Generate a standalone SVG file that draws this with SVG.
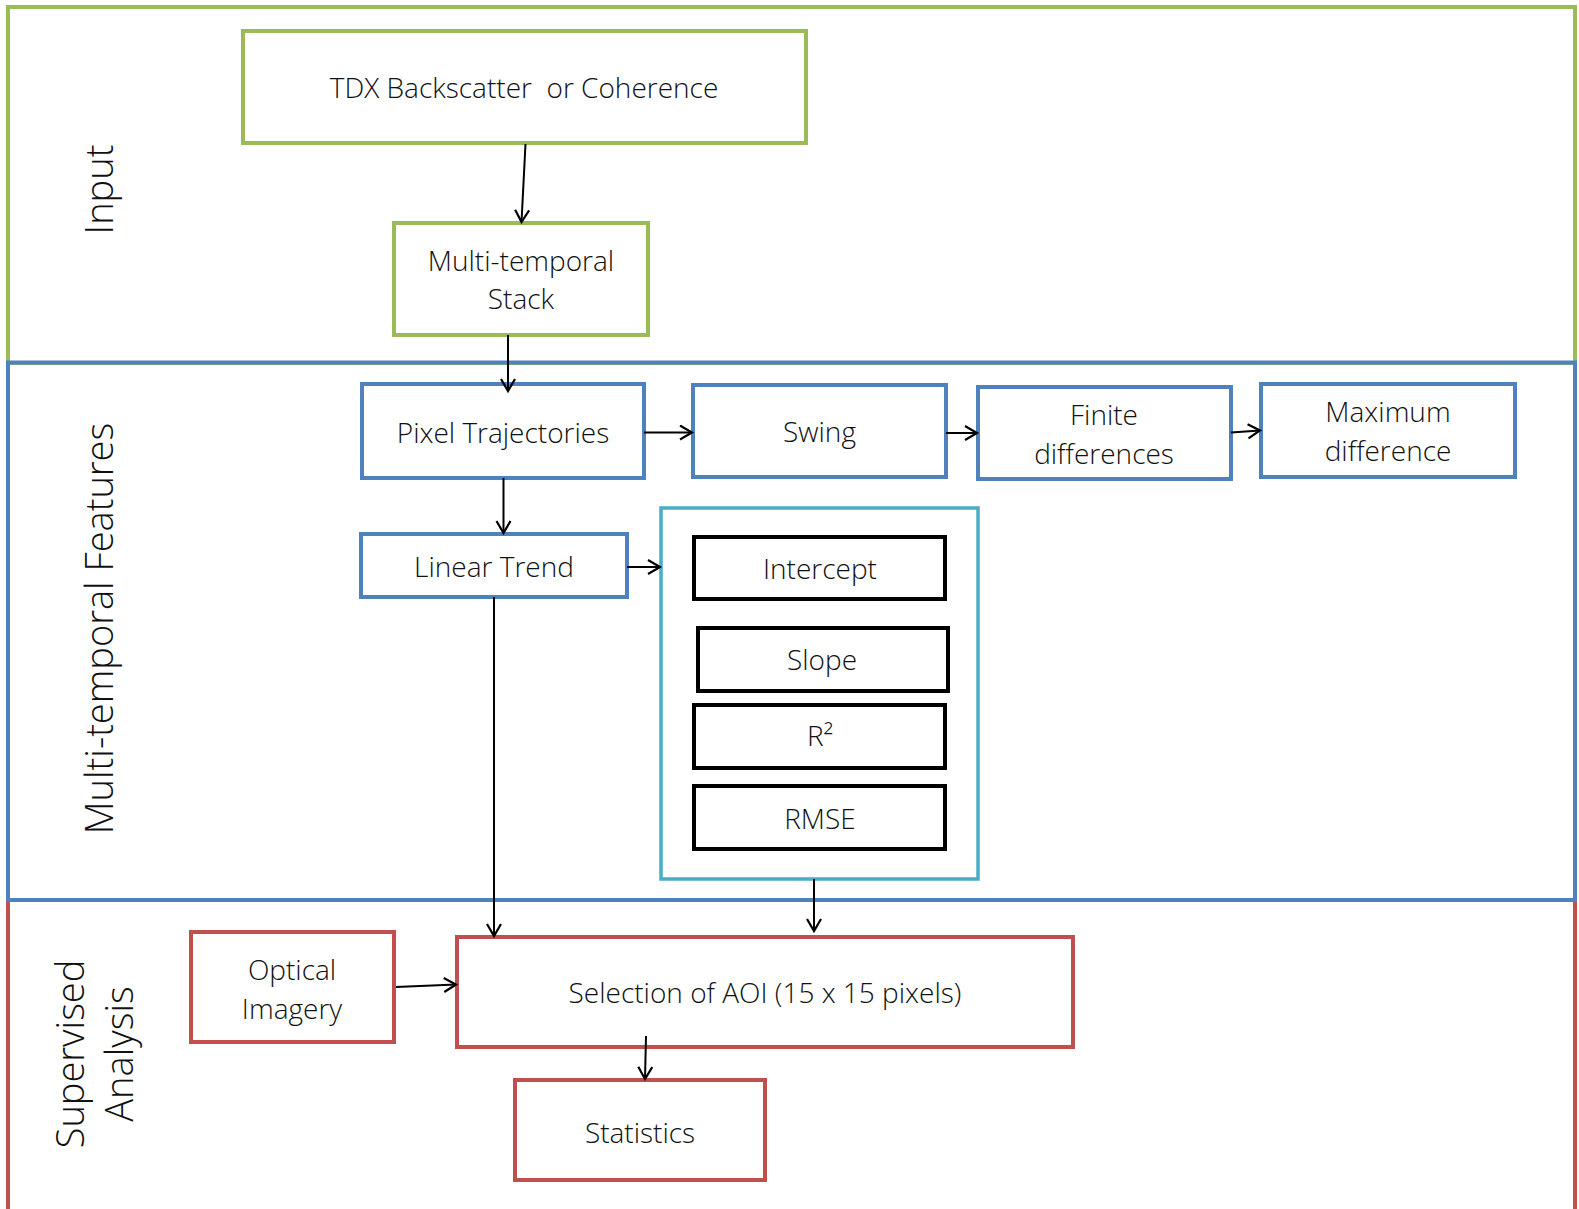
<svg xmlns="http://www.w3.org/2000/svg" width="1579" height="1209" viewBox="0 0 1579 1209">
<defs>
<style>
.bg{fill:#ffffff}
.sec{fill:none;stroke-width:4}
.box{fill:#ffffff;stroke-width:4}
.g{stroke:#9BBB59}
.b{stroke:#4F81BD}
.r{stroke:#C0504D}
.c{stroke:#4BACC6}
.k{stroke:#000000}
.t{font-family:"Open Sans","Liberation Sans",sans-serif;font-weight:300;font-size:28px;fill:#111111;text-anchor:middle}
.lab{font-family:"Open Sans","Liberation Sans",sans-serif;font-weight:300;font-size:38px;fill:#111111;text-anchor:middle}
.con{fill:none;stroke:#000000;stroke-width:2}
</style>
<marker id="ah" markerUnits="userSpaceOnUse" markerWidth="16" markerHeight="18" refX="13" refY="8" orient="auto">
<path d="M1,1 L13,8 L1,15" fill="none" stroke="#000000" stroke-width="2.2"/>
</marker>
</defs>
<rect class="bg" x="0" y="0" width="1579" height="1209"/>
<g id="sections">
<rect id="sec-input" class="sec g" x="8" y="7" width="1567" height="356"/>
<rect id="sec-supervised" class="sec r" x="8" y="900" width="1567" height="330"/>
<rect id="sec-features" class="sec b" x="8" y="362.5" width="1567" height="537.5"/>
<text class="lab" transform="translate(113,189.5) rotate(-90)">Input</text>
<text class="lab" transform="translate(113,628.5) rotate(-90)">Multi-temporal Features</text>
<text class="lab" transform="translate(84,1054) rotate(-90)">Supervised</text>
<text class="lab" transform="translate(133,1054) rotate(-90)">Analysis</text>
</g>
<g id="n-tdx"><rect class="box g" x="243" y="31" width="563" height="112"/><text class="t" x="524" y="98" xml:space="preserve">TDX Backscatter  or Coherence</text></g>
<g id="n-stack"><rect class="box g" x="394" y="223" width="254" height="112"/><text class="t" x="521" y="271">Multi-temporal</text><text class="t" x="521" y="309">Stack</text></g>
<g id="n-pixel"><rect class="box b" x="362" y="384" width="282" height="94"/><text class="t" x="503" y="443">Pixel Trajectories</text></g>
<g id="n-swing"><rect class="box b" x="693" y="385" width="253" height="92"/><text class="t" x="819.5" y="442">Swing</text></g>
<g id="n-finite"><rect class="box b" x="978" y="387" width="253" height="92"/><text class="t" x="1104" y="425">Finite</text><text class="t" x="1104" y="464">differences</text></g>
<g id="n-max"><rect class="box b" x="1261" y="384" width="254" height="93"/><text class="t" x="1388" y="422">Maximum</text><text class="t" x="1388" y="461">difference</text></g>
<g id="n-linear"><rect class="box b" x="361" y="534" width="266" height="63"/><text class="t" x="494" y="577">Linear Trend</text></g>
<g id="n-container"><rect class="box c" x="661" y="508" width="317" height="371" style="stroke-width:3.5"/></g>
<g id="n-intercept"><rect class="box k" x="694" y="537" width="251" height="62"/><text class="t" x="820" y="579">Intercept</text></g>
<g id="n-slope"><rect class="box k" x="698" y="628" width="250" height="63"/><text class="t" x="822" y="670">Slope</text></g>
<g id="n-r2"><rect class="box k" x="694" y="705" width="251" height="63"/><text class="t" x="820" y="746">R²</text></g>
<g id="n-rmse"><rect class="box k" x="694" y="786" width="251" height="63"/><text class="t" x="820" y="829">RMSE</text></g>
<g id="n-optical"><rect class="box r" x="191" y="932" width="203" height="110"/><text class="t" x="292" y="980">Optical</text><text class="t" x="292" y="1019">Imagery</text></g>
<g id="n-selection"><rect class="box r" x="457" y="937" width="616" height="110"/><text class="t" x="765" y="1003">Selection of AOI (15 x 15 pixels)</text></g>
<g id="n-stats"><rect class="box r" x="515" y="1080" width="250" height="100"/><text class="t" x="640" y="1143">Statistics</text></g>
<g id="connectors">
<line class="con" x1="525.5" y1="144" x2="521.5" y2="222" marker-end="url(#ah)"/>
<line class="con" x1="508" y1="335" x2="508" y2="391" marker-end="url(#ah)"/>
<line class="con" x1="644" y1="432.5" x2="692" y2="432.5" marker-end="url(#ah)"/>
<line class="con" x1="946" y1="433" x2="977" y2="433" marker-end="url(#ah)"/>
<line class="con" x1="1231" y1="432.5" x2="1260" y2="430.5" marker-end="url(#ah)"/>
<line class="con" x1="503.5" y1="478" x2="503.5" y2="533" marker-end="url(#ah)"/>
<line class="con" x1="627" y1="567" x2="660" y2="567" marker-end="url(#ah)"/>
<line class="con" x1="494" y1="597" x2="494" y2="936" marker-end="url(#ah)"/>
<line class="con" x1="814" y1="879" x2="814" y2="931" marker-end="url(#ah)"/>
<line class="con" x1="396" y1="987" x2="456" y2="984.5" marker-end="url(#ah)"/>
<line class="con" x1="646" y1="1036" x2="645" y2="1079" marker-end="url(#ah)"/>
</g>
</svg>
